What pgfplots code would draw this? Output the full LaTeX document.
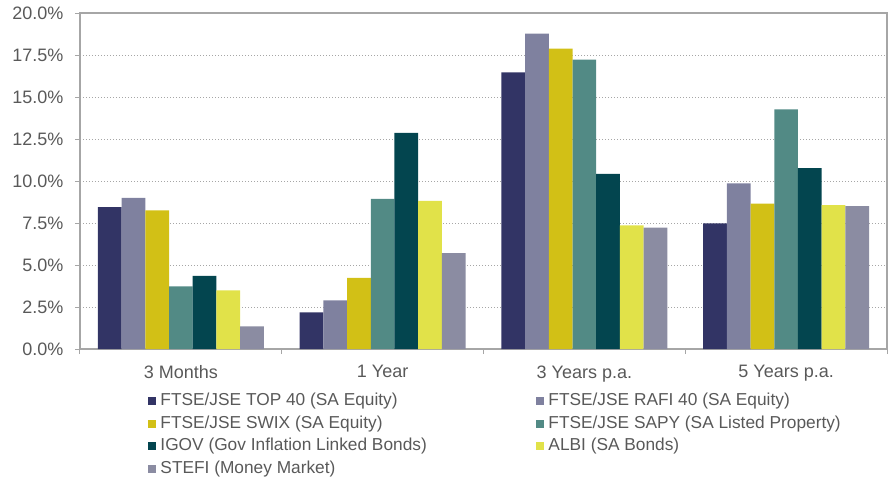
\documentclass[border=0pt]{standalone}
\usepackage{pgfplots}
\pgfplotsset{compat=1.18}
\usepackage{fontspec}
\setmainfont{Liberation Sans}
\definecolor{c1}{HTML}{323465}
\definecolor{c2}{HTML}{7F819F}
\definecolor{c3}{HTML}{D2C016}
\definecolor{c4}{HTML}{528A85}
\definecolor{c5}{HTML}{03454F}
\definecolor{c6}{HTML}{E1E249}
\definecolor{c7}{HTML}{8B8CA2}
\definecolor{axisgray}{HTML}{A6A6A6}
\definecolor{textgray}{HTML}{595959}
\begin{document}
\begin{tikzpicture}
\path (-80pt,-134pt) rectangle (814pt,349pt);
\begin{axis}[
  at={(0pt,0pt)}, anchor=south west,
  scale only axis, width=807pt, height=336pt,
  ybar=0pt, bar width=23.7pt,
  xmin=-0.5, xmax=3.5, ymin=0, ymax=20,
  xtick={-0.5,0.5,1.5,2.5,3.5},
  x tick label as interval,
  xticklabels={3 Months,1 Year,3 Years p.a.,5 Years p.a.},
  ytick={0,2.5,5,7.5,10,12.5,15,17.5,20},
  tick align=outside,
  xtick pos=bottom, ytick pos=left,
  major tick length=5pt,
  tick style={axisgray, line width=1pt},
  axis line style={axisgray, line width=1.3pt},
  ymajorgrids,
  grid style={axisgray, line width=1pt, dash pattern=on 1.2pt off 1.8pt},
  /pgf/number format/assume math mode=true,
  yticklabel={\pgfmathprintnumber[fixed,fixed zerofill,precision=1]{\tick}\%},
  tick label style={font=\fontsize{18}{21}\selectfont, text=textgray},
  yticklabel style={xshift=-8pt},
  xticklabel style={yshift=-8pt},
  legend columns=2,
  legend cell align=left,
  legend style={at={(0.0846,-0.131)}, anchor=north west, draw=none, fill=none,
    inner sep=0pt, row sep=6.6pt, font=\fontsize{17.3}{20}\selectfont, text=textgray,
    nodes={inner xsep=4pt, inner ysep=0pt, text height=12.5pt, text depth=3.5pt}},
  legend image code/.code={\fill[#1] (0pt,-4pt) rectangle (8pt,4pt);},
]
\addplot[fill=c1, draw=none] coordinates {(0,8.45) (1,2.18) (2,16.46) (3,7.48)};
\addlegendentry{\makebox[372pt][l]{FTSE/JSE TOP 40 (SA Equity)}}
\addplot[fill=c2, draw=none] coordinates {(0,9.00) (1,2.89) (2,18.77) (3,9.86)};
\addlegendentry{FTSE/JSE RAFI 40 (SA Equity)}
\addplot[fill=c3, draw=none] coordinates {(0,8.25) (1,4.24) (2,17.88) (3,8.65)};
\addlegendentry{\makebox[372pt][l]{FTSE/JSE SWIX (SA Equity)}}
\addplot[fill=c4, draw=none] coordinates {(0,3.73) (1,8.93) (2,17.22) (3,14.26)};
\addlegendentry{FTSE/JSE SAPY (SA Listed Property)}
\addplot[fill=c5, draw=none] coordinates {(0,4.36) (1,12.86) (2,10.43) (3,10.77)};
\addlegendentry{\makebox[372pt][l]{IGOV (Gov Inflation Linked Bonds)}}
\addplot[fill=c6, draw=none] coordinates {(0,3.49) (1,8.81) (2,7.36) (3,8.57)};
\addlegendentry{ALBI (SA Bonds)}
\addplot[fill=c7, draw=none] coordinates {(0,1.35) (1,5.71) (2,7.22) (3,8.51)};
\addlegendentry{\makebox[372pt][l]{STEFI (Money Market)}}
\end{axis}
\end{tikzpicture}
\end{document}
